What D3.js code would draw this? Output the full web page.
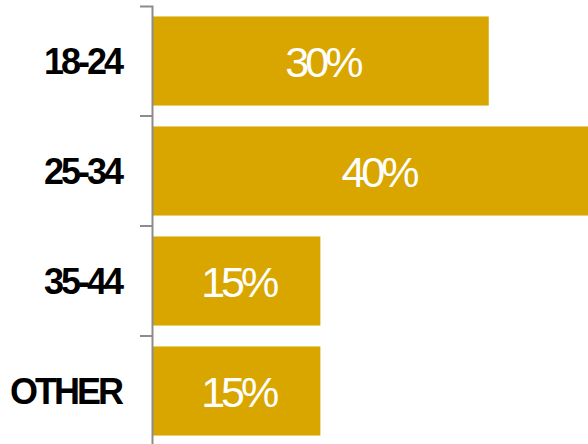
<!DOCTYPE html>
<html>
<head>
<meta charset="utf-8">
<script src="https://cdn.jsdelivr.net/npm/d3@7"></script>
<style>
  html, body { margin: 0; padding: 0; background: #fff; overflow: hidden; }
  svg { display: block; }
</style>
</head>
<body>
<div id="chart"></div>
<script>
const categories = ["18-24", "25-34", "35-44", "OTHER"];
const values = [30, 40, 15, 15];
const valueLabels = ["30%", "40%", "15%", "15%"];

const width = 588;
const height = 444;
const left = 152;

const svg = d3.select("#chart")
  .append("svg")
  .attr("width", width)
  .attr("height", height);

const x = d3.scaleLinear()
  .domain([0, 40])
  .range([left, 601]);

const y = d3.scaleBand()
  .domain(categories)
  .range([6, 446])
  .paddingInner(0.19)
  .paddingOuter(0.095);

const bars = svg.append("g");

bars.selectAll("rect")
  .data(categories)
  .join("rect")
  .attr("x", x(0))
  .attr("y", d => y(d))
  .attr("width", (d, i) => x(values[i]) - x(0))
  .attr("height", y.bandwidth())
  .attr("fill", "#D9A600");

bars.selectAll("text")
  .data(categories)
  .join("text")
  .attr("x", (d, i) => (x(0) + x(values[i])) / 2 + 2)
  .attr("y", d => y(d) + y.bandwidth() / 2 + 16)
  .attr("text-anchor", "middle")
  .attr("fill", "#fff")
  .style("font-family", "'Liberation Sans', Arial, sans-serif")
  .style("font-size", "43px")
  .style("letter-spacing", "-4px")
  .text((d, i) => valueLabels[i]);

// axis line with outer ticks
const axis = d3.axisLeft(y).tickSize(0).tickSizeOuter(12).tickFormat("");
const gAxis = svg.append("g")
  .attr("transform", `translate(${left},0)`)
  .call(axis);
gAxis.select(".domain")
  .attr("stroke", "#8c8c8c")
  .attr("stroke-width", 2);

// separators between bands
const gap = (y.step() - y.bandwidth()) / 2;
gAxis.selectAll(".sep")
  .data(categories.slice(1))
  .join("line")
  .attr("class", "sep")
  .attr("x1", -12)
  .attr("x2", 0)
  .attr("y1", d => y(d) - gap)
  .attr("y2", d => y(d) - gap)
  .attr("stroke", "#8c8c8c")
  .attr("stroke-width", 2);

// category labels
svg.append("g")
  .selectAll("text")
  .data(categories)
  .join("text")
  .attr("x", 121)
  .attr("y", d => y(d) + y.bandwidth() / 2 + 12.5)
  .attr("text-anchor", "end")
  .attr("fill", "#000")
  .style("font-family", "'Liberation Sans', Arial, sans-serif")
  .style("font-weight", "bold")
  .style("font-size", "36px")
  .style("letter-spacing", "-3px")
  .text(d => d);
</script>
</body>
</html>
